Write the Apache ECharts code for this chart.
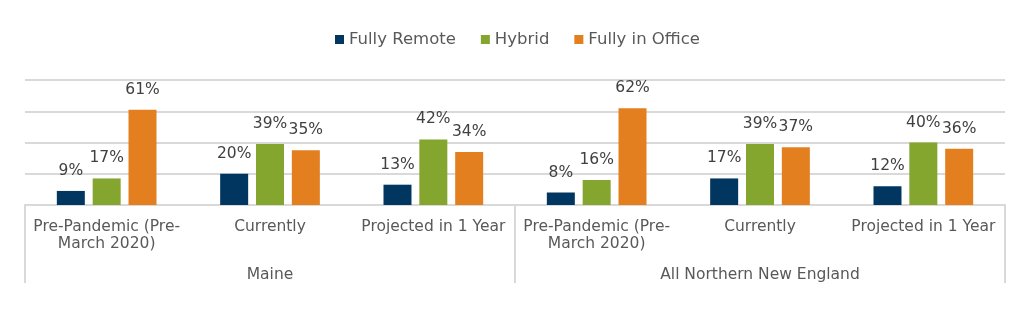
<!DOCTYPE html>
<html>
<head>
<meta charset="utf-8">
<script src="https://cdn.jsdelivr.net/npm/echarts@6/dist/echarts.min.js"></script>
<style>html,body{margin:0;padding:0;background:#fff;}#c{width:1035px;height:327px;}</style>
</head>
<body>
<div id="c"></div>
<script>
const categories = ['Pre-Pandemic (Pre-\nMarch 2020)', 'Currently', 'Projected in 1 Year', 'Pre-Pandemic (Pre-\nMarch 2020)', 'Currently', 'Projected in 1 Year'];
const groups = ['Maine', 'All Northern New England'];
const fullyRemote = [9, 20, 13, 8, 17, 12];
const hybrid = [17, 39, 42, 16, 39, 40];
const fullyInOffice = [61, 35, 34, 62, 37, 36];
const yTicks = [0, 20, 40, 60, 80];

const font = 'Verdana, "DejaVu Sans", sans-serif';
const chart = echarts.init(document.getElementById('c'));
const lbl = {show: true, position: 'top', distance: 12, formatter: p => p.value + '%', color: '#404040', fontSize: 15.5, fontFamily: font};
function ser(name, data, color) {
  return {name, type: 'bar', data, barWidth: 28, barGap: '28%', itemStyle: {color}, label: lbl, emphasis: {disabled: true}};
}
chart.setOption({
  animation: false,
  legend: {
    top: 26, left: 'center', itemWidth: 9, itemHeight: 9, itemGap: 25,
    icon: 'rect',
    textStyle: {color: '#595959', fontSize: 16.5, fontFamily: font},
    data: ['Fully Remote', 'Hybrid', 'Fully in Office']
  },
  grid: {left: 25, right: 30, top: 80, bottom: 122},
  xAxis: [
    {type: 'category', data: categories, position: 'bottom',
     axisLine: {show: true, lineStyle: {color: '#D9D9D9', width: 2}},
     axisTick: {show: false},
     axisLabel: {interval: 0, color: '#595959', fontSize: 15.5, fontFamily: font, margin: 13, lineHeight: 17}},
    {type: 'category', data: groups, position: 'bottom',
     axisLine: {show: false},
     axisTick: {show: true, length: 78, interval: 0, lineStyle: {color: '#D9D9D9', width: 2}},
     axisLabel: {interval: 0, color: '#595959', fontSize: 15.5, fontFamily: font, margin: 62}}
  ],
  yAxis: {type: 'value', min: yTicks[0], max: yTicks[yTicks.length - 1], interval: 20,
    axisLabel: {show: false}, axisLine: {show: false}, axisTick: {show: false},
    splitLine: {lineStyle: {color: '#D9D9D9', width: 2}}},
  series: [
    ser('Fully Remote', fullyRemote, '#003660'),
    ser('Hybrid', hybrid, '#84A62F'),
    ser('Fully in Office', fullyInOffice, '#E47F20')
  ]
});
</script>
</body>
</html>
